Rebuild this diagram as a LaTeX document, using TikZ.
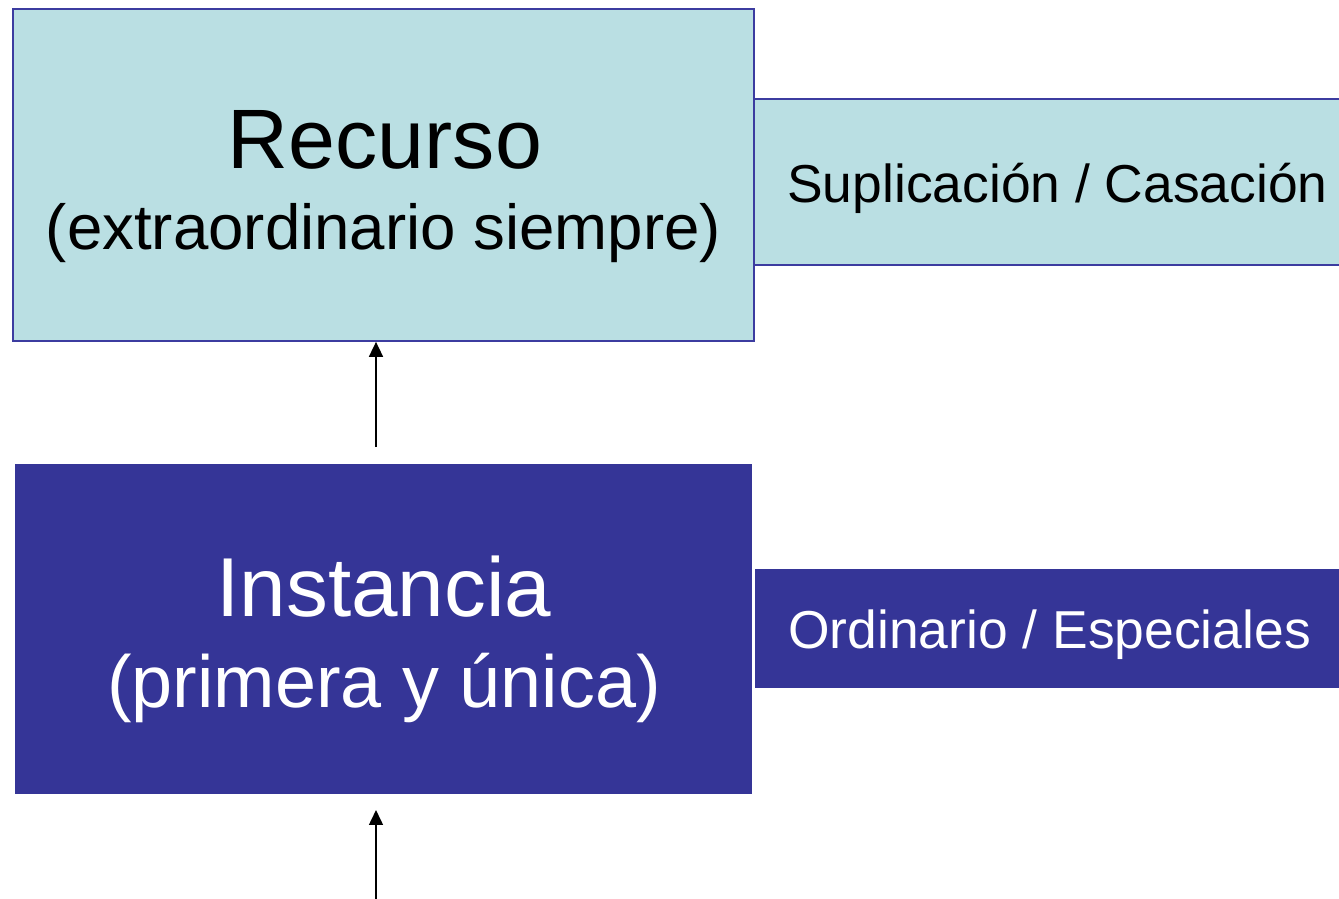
\documentclass[tikz,border=0pt]{standalone}
\usepackage{fontspec}
\setmainfont{Liberation Sans}
\usetikzlibrary{arrows.meta}

\definecolor{lightcyan}{RGB}{186,223,227}
\definecolor{deepblue}{RGB}{53,53,151}
\definecolor{edgeblue}{RGB}{60,60,160}

\begin{document}
\begin{tikzpicture}[x=0.02cm,y=-0.02cm]
        \tikzstyle{every node} = [rectangle, inner sep=0pt]
        \tikzstyle{lightbox} = [fill=lightcyan, draw=edgeblue, line width=1pt]
        \tikzstyle{darkbox} = [fill=deepblue, draw=deepblue, line width=0.5pt]
        \tikzstyle{arr} = [-{Triangle[width=7.9pt,length=8.5pt]}, line width=1pt]
        \useasboundingbox (0,0) rectangle (1339,899);

        % boxes
        \node[lightbox, minimum width=14.82cm, minimum height=6.64cm] (recurso) at (383.5,175) {};
        \node[lightbox, minimum width=11.82cm, minimum height=3.32cm] (suplica) at (1049.5,182) {};
        \node[darkbox, minimum width=14.74cm, minimum height=6.58cm] (instancia) at (383.5,628.5) {};
        \node[darkbox, minimum width=11.8cm, minimum height=2.36cm] (ordinario) at (1050,628) {};

        % texts
        \node[anchor=base] (recurso1) at (385,168) {\fontsize{48}{58}\selectfont Recurso};
        \node[anchor=base] (recurso2) at (383.5,249) {\fontsize{36.2}{44}\selectfont (extraordinario siempre)};
        \node[anchor=base west] (suplica1) at (787,202) {\fontsize{30.4}{36}\selectfont Suplicación / Casación};
        \node[anchor=base, text=white] (instancia1) at (384,616) {\fontsize{47.6}{58}\selectfont Instancia};
        \node[anchor=base, text=white] (instancia2) at (384,707) {\fontsize{42}{50}\selectfont (primera y única)};
        \node[anchor=base west, text=white] (ordinario1) at (788,648) {\fontsize{30.4}{36}\selectfont Ordinario / Especiales};

        % arrows
        \coordinate (s1) at (376,447);
        \coordinate (s2) at (376,899);
        \coordinate (e2) at (376,810);
        \draw[arr] (s1) -- (s1 |- recurso.south);
        \draw[arr] (s2) -- (e2);
      \end{tikzpicture}
\end{document}
